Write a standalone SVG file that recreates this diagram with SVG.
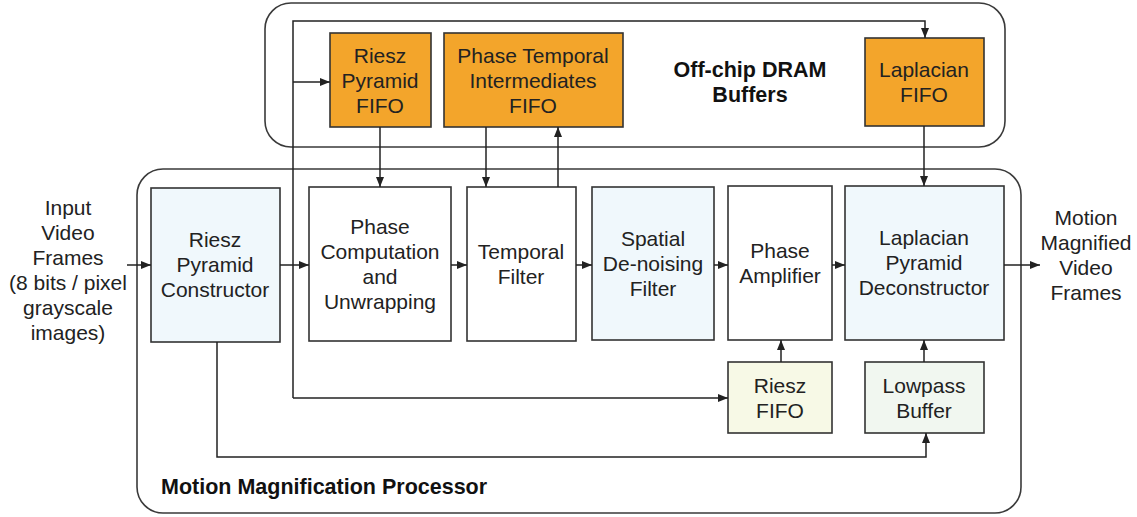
<svg xmlns="http://www.w3.org/2000/svg" width="1137" height="517" viewBox="0 0 1137 517">
<style>
.cont{fill:none;stroke:#3a3a3a;stroke-width:1.6}
.box{stroke:#333;stroke-width:1.6}
.orange{fill:#F3A52B}
.white{fill:#ffffff}
.blue{fill:#F0F8FC}
.yellow{fill:#F7F9E6}
.green{fill:#F1F7F0}
.t{font-family:"Liberation Sans",Arial,sans-serif;font-size:21px;fill:#222;text-anchor:middle}
.b{font-family:"Liberation Sans",Arial,sans-serif;font-size:21.5px;font-weight:bold;fill:#111}
.c{fill:none;stroke:#222;stroke-width:1.5}
</style>
<defs>
<marker id="ah" markerUnits="userSpaceOnUse" markerWidth="10" markerHeight="10" viewBox="0 0 10 10" refX="10" refY="5" orient="auto">
<path d="M0,1 L10,5 L0,9 Z" fill="#222"/>
</marker>
</defs>
<rect width="1137" height="517" fill="#fff"/>

<g id="offchip">
<rect class="cont" x="265" y="3" width="740" height="144" rx="26"/>
<text class="b" text-anchor="middle" x="750" y="77">Off-chip DRAM</text>
<text class="b" text-anchor="middle" x="750" y="102">Buffers</text>
</g>
<g id="processor">
<rect class="cont" x="137" y="169" width="884" height="344" rx="26"/>
<text class="b" x="161" y="494">Motion Magnification Processor</text>
</g>

<g id="riesz_pyramid_fifo">
<rect class="box orange" x="330" y="33" width="101" height="94"/>
<text class="t" x="380" y="63">Riesz</text>
<text class="t" x="380" y="88">Pyramid</text>
<text class="t" x="380" y="113">FIFO</text>
</g>
<g id="phase_temporal_fifo">
<rect class="box orange" x="444" y="33" width="179" height="94"/>
<text class="t" x="533" y="63">Phase Temporal</text>
<text class="t" x="533" y="88">Intermediates</text>
<text class="t" x="533" y="113">FIFO</text>
</g>
<g id="laplacian_fifo">
<rect class="box orange" x="865" y="38" width="119" height="88"/>
<text class="t" x="924" y="77">Laplacian</text>
<text class="t" x="924" y="102">FIFO</text>
</g>

<g id="input_label">
<text class="t" x="68" y="215">Input</text>
<text class="t" x="68" y="240">Video</text>
<text class="t" x="68" y="265">Frames</text>
<text class="t" x="68" y="290">(8 bits / pixel</text>
<text class="t" x="68" y="315">grayscale</text>
<text class="t" x="68" y="340">images)</text>
</g>
<g id="output_label">
<text class="t" x="1086" y="225">Motion</text>
<text class="t" x="1086" y="250">Magnified</text>
<text class="t" x="1086" y="275">Video</text>
<text class="t" x="1086" y="300">Frames</text>
</g>

<g id="riesz_constructor">
<rect class="box blue" x="151" y="188" width="129" height="154"/>
<text class="t" x="215" y="247">Riesz</text>
<text class="t" x="215" y="272">Pyramid</text>
<text class="t" x="215" y="297">Constructor</text>
</g>
<g id="phase_computation">
<rect class="box white" x="309" y="187" width="142" height="154"/>
<text class="t" x="380" y="234">Phase</text>
<text class="t" x="380" y="259">Computation</text>
<text class="t" x="380" y="284">and</text>
<text class="t" x="380" y="309">Unwrapping</text>
</g>
<g id="temporal_filter">
<rect class="box white" x="467" y="187" width="109" height="154"/>
<text class="t" x="521" y="259">Temporal</text>
<text class="t" x="521" y="284">Filter</text>
</g>
<g id="spatial_filter">
<rect class="box blue" x="592" y="187" width="122" height="153"/>
<text class="t" x="653" y="246">Spatial</text>
<text class="t" x="653" y="271">De-noising</text>
<text class="t" x="653" y="296">Filter</text>
</g>
<g id="phase_amplifier">
<rect class="box white" x="728" y="186" width="104" height="154"/>
<text class="t" x="780" y="258">Phase</text>
<text class="t" x="780" y="283">Amplifier</text>
</g>
<g id="laplacian_deconstructor">
<rect class="box blue" x="845" y="186" width="159" height="154"/>
<text class="t" x="924" y="245">Laplacian</text>
<text class="t" x="924" y="270">Pyramid</text>
<text class="t" x="924" y="295">Deconstructor</text>
</g>
<g id="riesz_fifo">
<rect class="box yellow" x="728" y="362" width="104" height="71"/>
<text class="t" x="780" y="393">Riesz</text>
<text class="t" x="780" y="418">FIFO</text>
</g>
<g id="lowpass_buffer">
<rect class="box green" x="865" y="362" width="119" height="71"/>
<text class="t" x="924" y="393">Lowpass</text>
<text class="t" x="924" y="418">Buffer</text>
</g>

<g id="connectors">
<path class="c" d="M127,265 H151" marker-end="url(#ah)"/>
<path class="c" d="M280,265 H309" marker-end="url(#ah)"/>
<path class="c" d="M451,265 H467" marker-end="url(#ah)"/>
<path class="c" d="M576,265 H592" marker-end="url(#ah)"/>
<path class="c" d="M714,265 H728" marker-end="url(#ah)"/>
<path class="c" d="M832,265 H845" marker-end="url(#ah)"/>
<path class="c" d="M1004,265 H1040" marker-end="url(#ah)"/>
<path class="c" d="M293,398 V21 H925 V38" marker-end="url(#ah)"/>
<path class="c" d="M293,82 H330" marker-end="url(#ah)"/>
<path class="c" d="M293,398 H728" marker-end="url(#ah)"/>
<path class="c" d="M380,127 V187" marker-end="url(#ah)"/>
<path class="c" d="M486,127 V187" marker-end="url(#ah)"/>
<path class="c" d="M558,187 V127" marker-end="url(#ah)"/>
<path class="c" d="M924,126 V186" marker-end="url(#ah)"/>
<path class="c" d="M781,362 V340" marker-end="url(#ah)"/>
<path class="c" d="M924,362 V340" marker-end="url(#ah)"/>
<path class="c" d="M217,342 V457 H926 V433" marker-end="url(#ah)"/>
</g>
</svg>
